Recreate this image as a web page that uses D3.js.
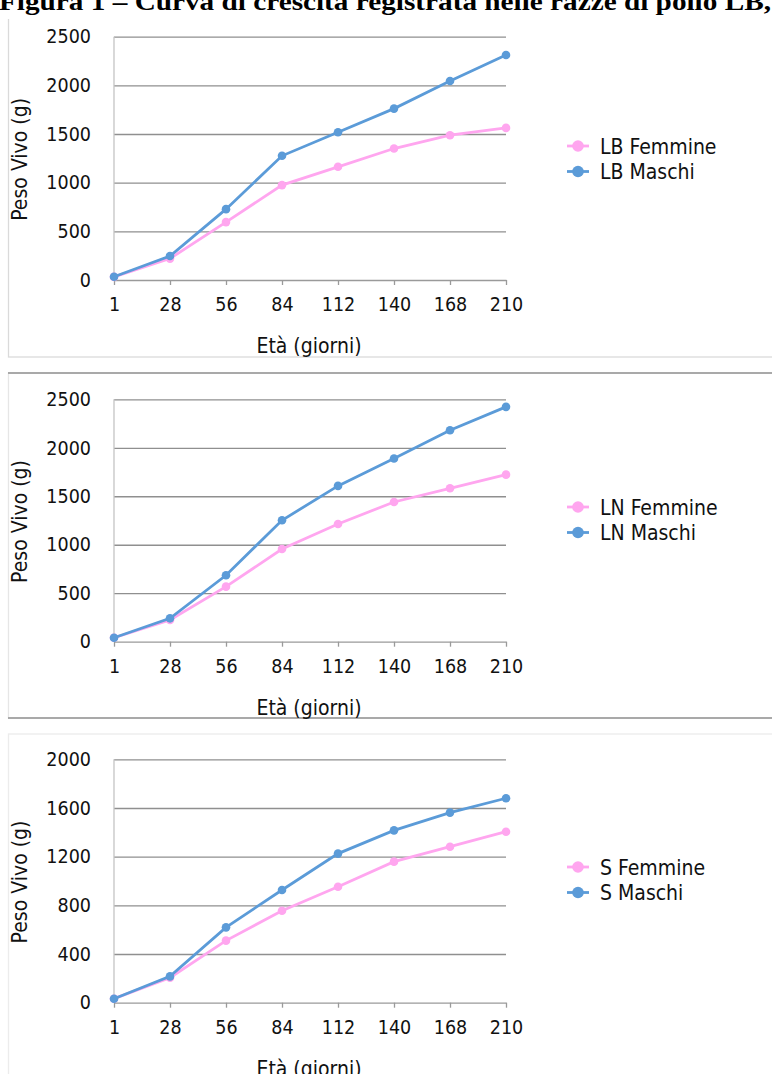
<!DOCTYPE html>
<html lang="it">
<head>
<meta charset="utf-8" />
<title>Curva di crescita</title>
<style>
  * { margin: 0; padding: 0; }
  body { background: #fff; width: 772px; height: 1074px; overflow: hidden; }
  svg { display: block; }
  .lbl { font-family: "DejaVu Sans Condensed", "DejaVu Sans"; font-stretch: condensed; font-size: 21px; fill: #111; }
  .axis text { font-family: "DejaVu Sans Condensed", "DejaVu Sans"; font-stretch: condensed; font-size: 19.5px; fill: #111; }
  .grid line { stroke: #8f8f8f; stroke-width: 1.3px; }
  .grid .domain { display: none; }
  .xaxis line, .xaxis path { stroke: #9a9a9a; stroke-width: 1.3px; }
  .line { fill: none; stroke-width: 2.8px; }
</style>
</head>
<body>
<script src="https://d3js.org/d3.v7.min.js"></script>
<svg id="chart" width="772" height="1074"></svg>
<script>

// data
var ages = ["1", "28", "56", "84", "112", "140", "168", "210"];

var lbFemmine = [32, 220, 595, 975, 1163, 1351, 1488, 1563];
var lbMaschi  = [34, 246, 728, 1276, 1518, 1761, 2045, 2312];

var lnFemmine = [41, 224, 568, 956, 1214, 1441, 1582, 1723];
var lnMaschi  = [41, 241, 685, 1252, 1607, 1889, 2181, 2422];

var sFemmine  = [33, 205, 510, 756, 953, 1159, 1282, 1405];
var sMaschi   = [33, 216, 619, 926, 1225, 1416, 1562, 1680];

var ticksLN = [0, 500, 1000, 1500, 2000, 2500];
var ticksS  = [0, 400, 800, 1200, 1600, 2000];

var pink = "#ffa6ef", blue = "#5b9bd8";

var panels = [
  { name: "LB", fem: lbFemmine, mas: lbMaschi, ticks: ticksLN, top: 36.7, bottom: 280, legY: 146 },
  { name: "LN", fem: lnFemmine, mas: lnMaschi, ticks: ticksLN, top: 399.3, bottom: 641.7, legY: 507 },
  { name: "S",  fem: sFemmine,  mas: sMaschi,  ticks: ticksS,  top: 759.3, bottom: 1002.7, legY: 867 }
];

var svg = d3.select("#chart");

// frames of the pasted charts
svg.append("rect").attr("x", 8.5).attr("y", 12).attr("width", 800).attr("height", 345)
  .attr("fill", "none").attr("stroke", "#dadada").attr("stroke-width", 1.3);
svg.append("rect").attr("x", 8.5).attr("y", 373).attr("width", 800).attr("height", 345)
  .attr("fill", "none").attr("stroke", "#e6e6e6").attr("stroke-width", 1.3);
svg.append("line").attr("x1", 8).attr("x2", 772).attr("y1", 373).attr("y2", 373)
  .attr("stroke", "#a9a9a9").attr("stroke-width", 2);
svg.append("line").attr("x1", 8).attr("x2", 772).attr("y1", 718).attr("y2", 718)
  .attr("stroke", "#a9a9a9").attr("stroke-width", 2);
svg.append("rect").attr("x", 8.5).attr("y", 734).attr("width", 800).attr("height", 400)
  .attr("fill", "none").attr("stroke", "#ececec").attr("stroke-width", 1.3);

// title cut at the top of the page
svg.append("rect").attr("x", 0).attr("y", 0).attr("width", 772).attr("height", 19).attr("fill", "#fff");
svg.append("text")
  .attr("x", -1).attr("y", 10)
  .attr("textLength", 772).attr("lengthAdjust", "spacingAndGlyphs")
  .style("font-family", "'Liberation Serif', 'Times New Roman', serif").style("font-weight", "bold").style("font-size", "25px")
  .text("Figura 1 \u2013 Curva di crescita registrata nelle razze di pollo LB,");

var x = d3.scalePoint().domain(ages).range([114, 506]);

panels.forEach(function(p) {
  var y = d3.scaleLinear().domain([0, d3.max(p.ticks)]).range([p.bottom, p.top]);

  svg.append("g")
    .attr("class", "grid axis")
    .attr("transform", "translate(114,0)")
    .call(d3.axisLeft(y).tickValues(p.ticks).tickSize(-392).tickPadding(23).tickFormat(d3.format("d")))
    .selectAll("line").filter(function(d) { return d === 0; }).remove();

  svg.append("line")
    .attr("x1", 114).attr("x2", 114).attr("y1", p.top).attr("y2", p.bottom)
    .attr("stroke", "#c4c4c4").attr("stroke-width", 1.3);

  svg.append("g")
    .attr("class", "xaxis axis")
    .attr("transform", "translate(0," + p.bottom + ")")
    .call(d3.axisBottom(x).tickSize(5).tickSizeOuter(0).tickPadding(12));

  svg.append("text").attr("class", "lbl")
    .attr("x", 309).attr("y", p.bottom + 73)
    .attr("text-anchor", "middle")
    .text("Et\u00e0 (giorni)");

  svg.append("text").attr("class", "lbl")
    .attr("transform", "translate(27," + ((p.top + p.bottom) / 2 + 1) + ") rotate(-90)")
    .attr("text-anchor", "middle")
    .text("Peso Vivo (g)");

  var line = d3.line()
    .x(function(d, i) { return x(ages[i]); })
    .y(function(d) { return y(d); });

  [[p.fem, pink], [p.mas, blue]].forEach(function(s) {
    svg.append("path").datum(s[0]).attr("class", "line").attr("stroke", s[1]).attr("d", line);
    svg.selectAll(null).data(s[0]).enter().append("circle")
      .attr("cx", function(d, i) { return x(ages[i]); })
      .attr("cy", function(d) { return y(d); })
      .attr("r", 4.3)
      .attr("fill", s[1]);
  });

  // legend
  var leg = [[p.name + " Femmine", pink], [p.name + " Maschi", blue]];
  leg.forEach(function(l, i) {
    var ly = p.legY + i * 25.5;
    svg.append("line").attr("x1", 567).attr("x2", 589).attr("y1", ly).attr("y2", ly)
      .attr("stroke", l[1]).attr("stroke-width", 2.8);
    svg.append("circle").attr("cx", 578).attr("cy", ly).attr("r", 5.8).attr("fill", l[1]);
    svg.append("text").attr("class", "lbl")
      .attr("x", 600).attr("y", ly + 7.5)
      .text(l[0]);
  });
});

</script>
</body>
</html>
